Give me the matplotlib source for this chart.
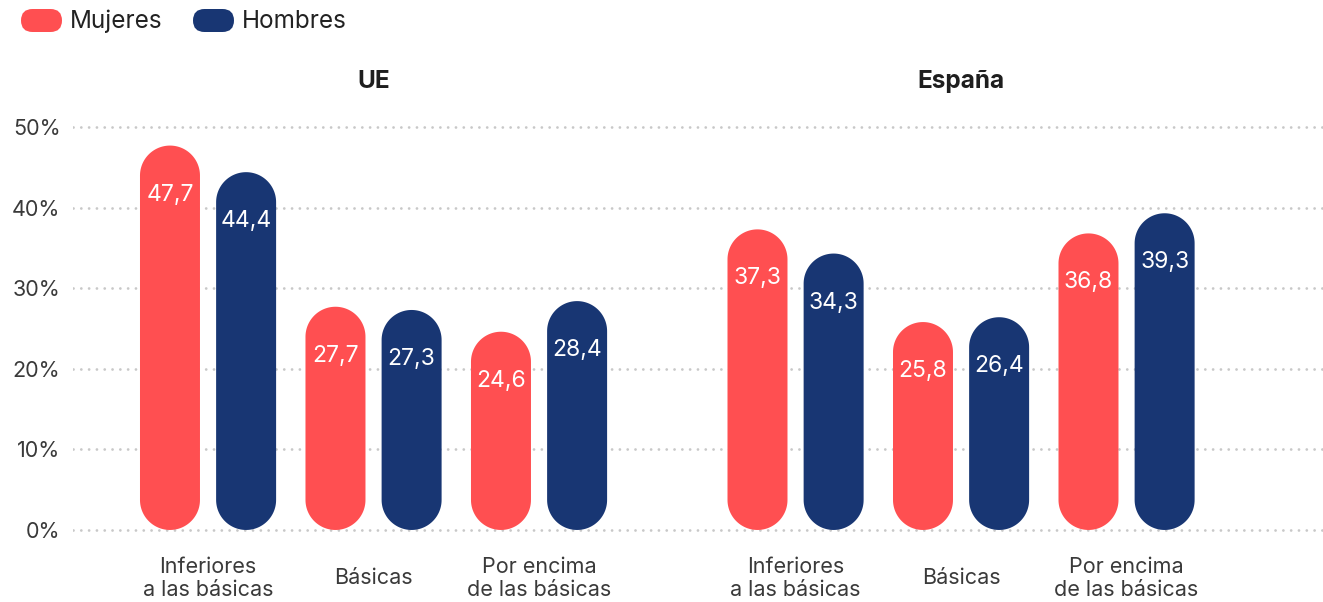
import numpy as np
import matplotlib.pyplot as plt
from matplotlib.patches import Polygon, FancyBboxPatch

plt.rcParams['font.family'] = ['Inter', 'DejaVu Sans']

# datos (% de personas según nivel de competencias digitales)
regiones = ['UE', 'España']
categorias = ['Inferiores\na las básicas', 'Básicas', 'Por encima\nde las básicas']
mujeres = {'UE': [47.7, 27.7, 24.6], 'España': [37.3, 25.8, 36.8]}
hombres = {'UE': [44.4, 27.3, 28.4], 'España': [34.3, 26.4, 39.3]}
series = ['Mujeres', 'Hombres']
y_ticks = [0, 10, 20, 30, 40, 50]

colores = {'Mujeres': '#FF4F51', 'Hombres': '#183673'}
texto = '#3a3a3a'

# posiciones de los grupos en el eje x (hueco entre UE y España)
inicio_region = {'UE': 0.0, 'España': 3.55}
bar_w = 0.3625
offset = 0.23

fig = plt.figure(figsize=(13.23, 6.02), dpi=100)
ax = fig.add_axes([73 / 1323, 68 / 602, 1250 / 1323, 411 / 602])
ax.set_xlim(-0.816, 6.737)
ax.set_ylim(-0.5, 50.5)

# relación pixel x / pixel y para que los extremos sean semicírculos
p0 = ax.transData.transform((0, 0))
p1 = ax.transData.transform((1, 1))
aspecto = (p1[0] - p0[0]) / (p1[1] - p0[1])


def barra_pildora(ax, xc, valor, color):
    r = bar_w / 2
    ry = r * aspecto
    t = np.linspace(0, np.pi, 60)
    arriba = np.column_stack([xc + r * np.cos(t), valor - ry + ry * np.sin(t)])
    abajo = np.column_stack([xc - r * np.cos(t), ry - ry * np.sin(t)])
    ax.add_patch(Polygon(np.vstack([arriba, abajo]), closed=True,
                         facecolor=color, edgecolor='none', zorder=3))


for region in regiones:
    for i, cat in enumerate(categorias):
        xg = inicio_region[region] + i
        for serie, dx, datos in [('Mujeres', -offset, mujeres), ('Hombres', offset, hombres)]:
            v = datos[region][i]
            barra_pildora(ax, xg + dx, v, colores[serie])
            ax.annotate(f'{v:.1f}'.replace('.', ','), (xg + dx, v), xytext=(0, -49),
                        textcoords='offset pixels', ha='center', va='center',
                        color='white', fontsize=16.5, zorder=4)
        ax.text(xg, -0.108, cat, transform=ax.get_xaxis_transform(), ha='center',
                va='center', fontsize=15.5, color=texto, linespacing=1.15)
    ax.text(inicio_region[region] + 1, 1.1, region, transform=ax.get_xaxis_transform(),
            ha='center', va='center', fontsize=17.5, fontweight='bold', color='#1e1e1e')

# rejilla punteada
for y in y_ticks:
    ax.axhline(y, color='#c8c8c8', lw=2.0, dashes=(0.01, 2.8),
               dash_capstyle='round', zorder=1)

ax.set_yticks(y_ticks)
ax.set_yticklabels([f'{y}%' for y in y_ticks], fontsize=15.5, color=texto)
ax.tick_params(axis='y', length=0, pad=9)
ax.set_xticks([])
for s in ax.spines.values():
    s.set_visible(False)

# leyenda con píldoras (capa en píxeles)
capa = fig.add_axes([0, 0, 1, 1], zorder=5)
capa.set_xlim(0, 1323)
capa.set_ylim(602, 0)
capa.axis('off')
leg_x = {'Mujeres': 21, 'Hombres': 193}
for serie in series:
    x0 = leg_x[serie]
    capa.add_patch(FancyBboxPatch((x0, 9), 41, 23,
                                  boxstyle='round,pad=0,rounding_size=11.5',
                                  facecolor=colores[serie], edgecolor='none'))
    capa.text(x0 + 49, 21, serie, ha='left', va='center',
              fontsize=17.5, color='#222222')

fig.savefig('out.png', dpi=100)
